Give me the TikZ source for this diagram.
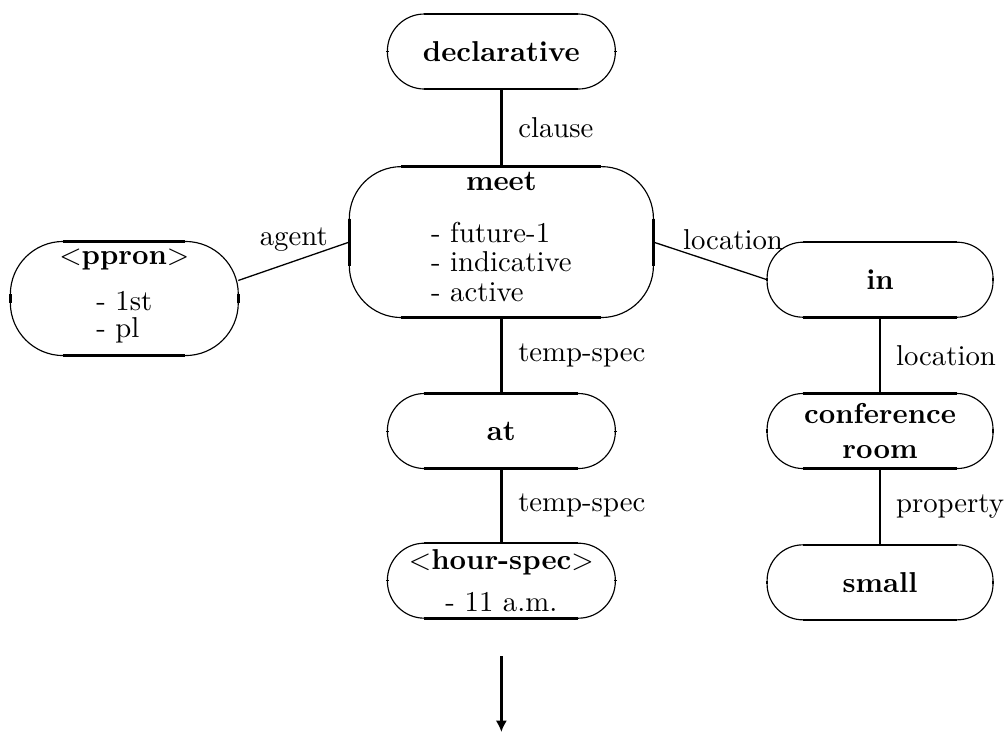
\documentclass[tikz,border=0pt]{standalone}
\usetikzlibrary{arrows.meta}

\tikzset{
  oval/.style={draw, line width=0.4pt, rounded corners=#1, inner sep=0pt, outer sep=0pt, align=center,
    append after command={\pgfextra{\draw[line width=0.9pt]
      ([xshift=#1]\tikzlastnode.north west) -- ([xshift=-#1]\tikzlastnode.north east)
      ([xshift=#1]\tikzlastnode.south west) -- ([xshift=-#1]\tikzlastnode.south east)
      ([yshift=-#1]\tikzlastnode.north west) -- ([yshift=#1]\tikzlastnode.south west)
      ([yshift=-#1]\tikzlastnode.north east) -- ([yshift=#1]\tikzlastnode.south east);}}},
  wordbox/.style={oval=12.9pt, minimum width=79.3pt, minimum height=26.1pt},
  rightbox/.style={oval=12.5pt, minimum width=78.6pt, minimum height=26.1pt},
  strong/.style={line width=1.1pt},
  weak/.style={line width=0.45pt},
}

\begin{document}
\begin{tikzpicture}
\useasboundingbox (0,0) rectangle (12.30,8.95);

\node[wordbox] (decl) at (6.13,8.32) {\textbf{declarative}};
\node[oval=18.1pt, minimum width=105.8pt, minimum height=52.5pt] (meet) at (6.13,5.99)
  {\textbf{meet}\\[5.8pt]
   \begin{tabular}[t]{@{}l@{}}- future-1\\[-1.7pt] - indicative\\[-1.7pt] - active\end{tabular}};
\node[oval=18.4pt, minimum width=79.3pt, minimum height=39.7pt] (ppron) at (1.52,5.30)
  {$<$\textbf{ppron}$>$\\[4pt]
   \begin{tabular}[t]{@{}l@{}}- 1st\\[-2.8pt] - pl\end{tabular}};
\node[rightbox] (in) at (10.76,5.53) {\textbf{in}};
\node[rightbox] (room) at (10.76,3.68) {\textbf{conference}\\\textbf{room}};
\node[rightbox] (small) at (10.76,1.83) {\textbf{small}};
\node[wordbox] (at) at (6.13,3.68) {\textbf{at}};
\node[wordbox] (hour) at (6.13,1.85) {$<$\textbf{hour-spec}$>$\\[2.6pt] - 11 a.m.};
\coordinate (out) at (6.13,0);

\draw[strong] (decl) -- (meet) node[midway,right=2pt] {clause};
\draw[weak] (meet.west) -- (ppron.9) node[midway,above] {agent};
\draw[weak] (meet.east) -- (in.west) node[pos=0.7,above=3pt] {location};
\draw[strong] (meet) -- (at) node[midway,right=2pt] {temp-spec};
\draw[strong] (at) -- (hour) node[midway,right=2pt] {temp-spec};
\draw[weak] (in) -- (room) node[midway,right=2pt] {location};
\draw[weak] (room) -- (small) node[midway,right=2pt] {property};

\draw[strong,-{Latex[length=4pt,width=4pt]},shorten <=13.2pt] (hour.south) -- (out);
\end{tikzpicture}
\end{document}
